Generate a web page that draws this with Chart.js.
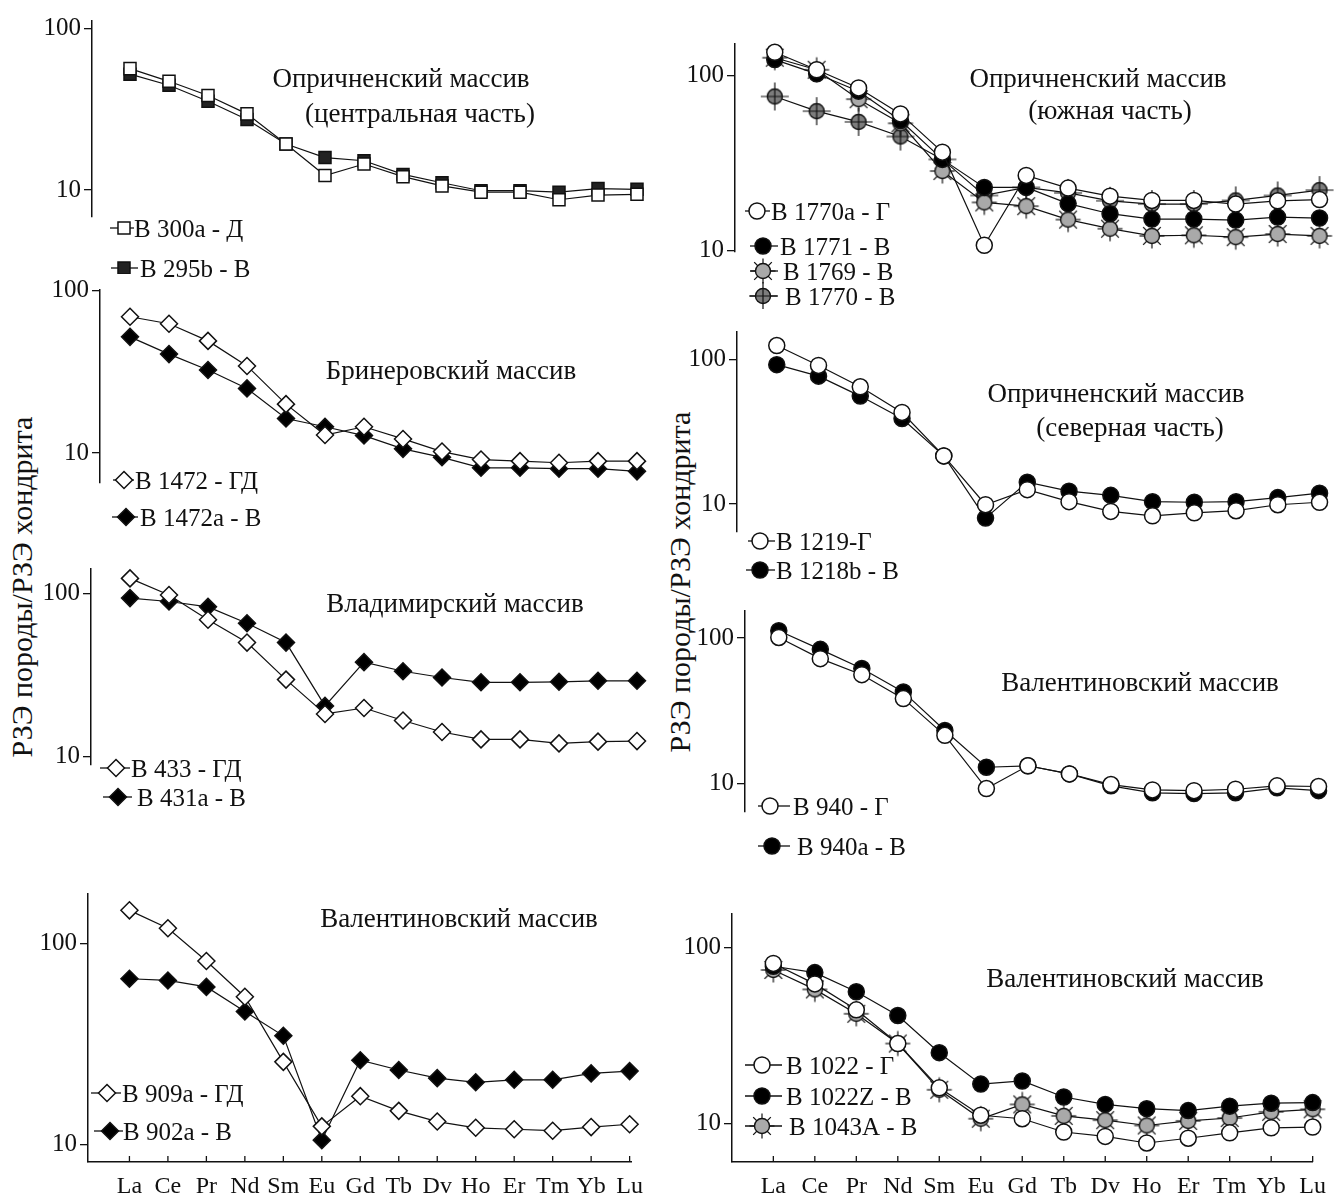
<!DOCTYPE html>
<html>
<head>
<meta charset="utf-8">
<script src="https://cdn.jsdelivr.net/npm/chart.js@4.4.0/dist/chart.umd.min.js"></script>
<style>
body { margin:0; background:#fff; width:1336px; height:1198px; position:relative; overflow:hidden;
       font-family:'Liberation Serif','Times New Roman',serif; color:#111; }
canvas { position:absolute; }
.t { position:absolute; white-space:nowrap; transform:translate(-50%,-50%); font-size:27px; line-height:1; }
.lg { position:absolute; white-space:nowrap; transform:translateY(-50%); font-size:25px; line-height:1; }
.ylab { position:absolute; white-space:nowrap; font-size:30px; line-height:1; transform:translate(-50%,-50%) rotate(-90deg); }
</style>
</head>
<body>
<div class="ylab" style="left:22px;top:587px">РЗЭ породы/РЗЭ хондрита</div>
<div class="ylab" style="left:680px;top:582px">РЗЭ породы/РЗЭ хондрита</div>
<script>
const FONT = "'Liberation Serif','Times New Roman',serif";

// элементы (ось X)
const elements   = ['La','Ce','Pr','Nd','Sm','Eu','Gd','Tb','Dy','Ho','Er','Tm','Yb','Lu'];
const tickLabels = ['La','Ce','Pr','Nd','Sm','Eu','Gd','Tb','Dv','Ho','Er','Tm','Yb','Lu'];
const yTickValues = [10, 100];

// Опричненский массив (центральная часть)
const v300a = [56.7, 47.3, 38.6, 29.7, 19.3, 12.3, 14.5, 12.1, 10.6, 9.7, 9.7, 8.7, 9.3, 9.4];
const v295b = [52.4, 44.7, 35.6, 27.4, 19.3, 15.9, 15.2, 12.5, 11.1, 9.9, 9.9, 9.7, 10.2, 10.1];
// Бринеровский массив
const v1472  = [69.2, 62.6, 49.1, 34.4, 20.0, 12.9, 14.5, 12.2, 10.2, 9.1, 8.9, 8.7, 8.9, 8.9];
const v1472a = [52.0, 40.7, 32.5, 25.0, 16.3, 14.5, 12.8, 10.6, 9.4, 8.1, 8.1, 8.0, 8.0, 7.7];
// Владимирский массив
const v433  = [124, 98.1, 69.0, 50.0, 29.6, 18.2, 19.8, 16.6, 14.1, 12.7, 12.7, 12.0, 12.3, 12.4];
const v431a = [93.8, 89.4, 82.9, 65.7, 50.0, 20.4, 37.9, 33.3, 30.5, 28.5, 28.5, 28.7, 29.1, 29.1];
// Валентиновский массив (слева)
const v909a = [147, 119.7, 82.2, 54.5, 25.8, 12.3, 17.4, 14.7, 13.0, 12.1, 11.9, 11.7, 12.2, 12.6];
const v902a = [67.0, 65.7, 61.0, 46.0, 34.8, 10.5, 26.3, 23.5, 21.4, 20.4, 21.0, 21.0, 22.6, 23.2];
// Опричненский массив (южная часть)
const v1770a = [135.4, 107.6, 84.7, 60.2, 36.4, 10.7, 26.8, 22.7, 20.4, 19.3, 19.3, 18.4, 19.2, 19.5];
const v1771  = [123, 102, 81.2, 55.2, 33.1, 22.9, 22.9, 18.5, 16.2, 15.1, 15.1, 14.9, 15.5, 15.3];
const v1769  = [126, 107.6, 73.1, 53.2, 28.4, 18.8, 17.9, 15.0, 13.3, 12.1, 12.2, 11.9, 12.4, 12.1];
const v1770  = [75.7, 62.4, 54.2, 44.7, 33.1, 20.6, 22.9, 21.3, 19.2, 18.4, 18.4, 19.3, 20.6, 22.1];
// Опричненский массив (северная часть)
const v1219  = [125.7, 91.5, 65.1, 43.2, 21.6, 9.9, 12.6, 10.4, 8.9, 8.3, 8.7, 9.0, 9.9, 10.3];
const v1218b = [92.7, 77.1, 56.1, 39.2, 21.6, 8.0, 14.2, 12.3, 11.5, 10.4, 10.3, 10.4, 11.1, 11.9];
// Валентиновский массив (справа, середина)
const v940  = [101, 72.2, 56.0, 38.3, 21.4, 9.2, 13.2, 11.6, 9.8, 9.0, 8.9, 9.1, 9.6, 9.5];
const v940a = [112.5, 83.7, 61.8, 42.6, 23.1, 12.9, 13.2, 11.6, 9.6, 8.6, 8.5, 8.6, 9.3, 8.9];
// Валентиновский массив (справа, низ)
const v1022  = [80.9, 62.0, 44.2, 28.5, 16.0, 11.2, 10.7, 9.0, 8.5, 7.8, 8.3, 8.9, 9.5, 9.6];
const v1022z = [78, 71.8, 56.0, 41.1, 25.3, 16.8, 17.5, 14.2, 12.9, 12.2, 11.9, 12.6, 13.1, 13.2];
const v1043a = [74.3, 57.7, 42.0, 28.5, 15.6, 10.7, 12.9, 11.1, 10.5, 9.8, 10.4, 10.8, 11.7, 12.1];

// значки
function sunMarker() {
    const c = document.createElement('canvas');
    c.width = c.height = 28;
    const g = c.getContext('2d');
    g.translate(14, 14);
    g.strokeStyle = '#111';
    g.lineWidth = 1.2;
    for (let k = 0; k < 8; k++) {
        const a = k * Math.PI / 4;
        g.beginPath();
        g.moveTo(Math.cos(a) * 6, Math.sin(a) * 6);
        g.lineTo(Math.cos(a) * 12.5, Math.sin(a) * 12.5);
        g.stroke();
    }
    g.beginPath();
    g.arc(0, 0, 7.5, 0, Math.PI * 2);
    g.fillStyle = '#a9a9a9';
    g.fill();
    g.lineWidth = 1.4;
    g.stroke();
    return c;
}

function crossMarker() {
    const c = document.createElement('canvas');
    c.width = c.height = 30;
    const g = c.getContext('2d');
    g.translate(15, 15);
    g.beginPath();
    g.arc(0, 0, 7.5, 0, Math.PI * 2);
    g.fillStyle = '#7d7d7d';
    g.fill();
    g.strokeStyle = '#111';
    g.lineWidth = 1.4;
    g.stroke();
    g.lineWidth = 1.2;
    g.beginPath();
    g.moveTo(-14, 0); g.lineTo(14, 0);
    g.moveTo(0, -14); g.lineTo(0, 14);
    g.stroke();
    return c;
}

const marks = {
    sqOpen: { style: 'rect', r: 8.5, fill: '#fff' },
    sqFill: { style: 'rect', r: 8.5, fill: '#222' },
    dmOpen: { style: 'rectRot', r: 8.5, fill: '#fff' },
    dmFill: { style: 'rectRot', r: 8.5, fill: '#000' },
    ciOpen: { style: 'circle', r: 8, fill: '#fff' },
    ciFill: { style: 'circle', r: 8, fill: '#000' },
    sun:    { style: sunMarker(), r: 8, fill: '#a9a9a9' },
    cross:  { style: crossMarker(), r: 8, fill: '#7d7d7d' }
};

function drawMark(ctx, m, x, y) {
    if (typeof m.style !== 'string') {
        ctx.drawImage(m.style, x - m.style.width / 2, y - m.style.height / 2);
        return;
    }
    ctx.beginPath();
    if (m.style === 'circle') {
        ctx.arc(x, y, m.r, 0, Math.PI * 2);
    } else if (m.style === 'rect') {
        const s = m.r * Math.SQRT1_2;
        ctx.rect(x - s, y - s, 2 * s, 2 * s);
    } else {
        ctx.moveTo(x, y - m.r); ctx.lineTo(x + m.r, y); ctx.lineTo(x, y + m.r); ctx.lineTo(x - m.r, y); ctx.closePath();
    }
    ctx.fillStyle = m.fill;
    ctx.fill();
    ctx.lineWidth = 1.5;
    ctx.strokeStyle = '#111';
    ctx.stroke();
}

const panels = [
    { ax: 92, top: 15, bottom: 262, y100: 25, y10: 228, la: 130, lu: 637, right: 650, xAxis: false,
      series: [{ label: 'В 300а - Д', values: v300a, mark: 'sqOpen' },
               { label: 'В 295b - В', values: v295b, mark: 'sqFill' }],
      legend: [{ y: 228, mx: 124, x1: 110, x2: 134, tx: 134 },
               { y: 268, mx: 124, x1: 111, x2: 138, tx: 140 }],
      titles: [['Опричненский массив', 401, 78], ['(центральная часть)', 420, 113]] },
    { ax: 100, top: 284, bottom: 528, y100: 285, y10: 490, la: 130, lu: 637, right: 650, xAxis: false,
      series: [{ label: 'В 1472 - ГД', values: v1472, mark: 'dmOpen' },
               { label: 'В 1472а - В', values: v1472a, mark: 'dmFill' }],
      legend: [{ y: 480, mx: 124, x1: 113, x2: 134, tx: 135 },
               { y: 517, mx: 126, x1: 112, x2: 138, tx: 140 }],
      titles: [['Бринеровский массив', 451, 370]] },
    { ax: 91, top: 563, bottom: 810, y100: 594, y10: 799, la: 130, lu: 637, right: 650, xAxis: false,
      series: [{ label: 'В 433 - ГД', values: v433, mark: 'dmOpen' },
               { label: 'В 431а - В', values: v431a, mark: 'dmFill' }],
      legend: [{ y: 768, mx: 116, x1: 100, x2: 130, tx: 131 },
               { y: 797, mx: 118, x1: 103, x2: 132, tx: 137 }],
      titles: [['Владимирский массив', 455, 603]] },
    { ax: 88, top: 888, bottom: 1162, y100: 939, y10: 1144, la: 130, lu: 637, right: 639, xAxis: true,
      series: [{ label: 'В 909а - ГД', values: v909a, mark: 'dmOpen' },
               { label: 'В 902а - В', values: v902a, mark: 'dmFill' }],
      legend: [{ y: 1093, mx: 107, x1: 91, x2: 121, tx: 122 },
               { y: 1131, mx: 110, x1: 94, x2: 123, tx: 123 }],
      titles: [['Валентиновский массив', 459, 918]] },
    { ax: 735, top: 38, bottom: 297, y100: 77, y10: 295, la: 775, lu: 1323, right: 1330, xAxis: false,
      series: [{ label: 'В 1770а - Г', values: v1770a, mark: 'ciOpen' },
               { label: 'В 1771 - В', values: v1771, mark: 'ciFill' },
               { label: 'В 1769 - В', values: v1769, mark: 'sun' },
               { label: 'В 1770 - В', values: v1770, mark: 'cross' }],
      legend: [{ y: 211, mx: 757, x1: 745, x2: 770, tx: 771 },
               { y: 246, mx: 763, x1: 750, x2: 778, tx: 780 },
               { y: 271, mx: 763, x1: 750, x2: 778, tx: 783 },
               { y: 296, mx: 763, x1: 750, x2: 778, tx: 785 }],
      titles: [['Опричненский массив', 1098, 78], ['(южная часть)', 1110, 110]] },
    { ax: 737, top: 326, bottom: 577, y100: 361, y10: 542, la: 777, lu: 1323, right: 1330, xAxis: false,
      series: [{ label: 'В 1219-Г', values: v1219, mark: 'ciOpen' },
               { label: 'В 1218b - В', values: v1218b, mark: 'ciFill' }],
      legend: [{ y: 541, mx: 760, x1: 748, x2: 775, tx: 776 },
               { y: 570, mx: 760, x1: 746, x2: 775, tx: 776 }],
      titles: [['Опричненский массив', 1116, 393], ['(северная часть)', 1130, 427]] },
    { ax: 745, top: 605, bottom: 857, y100: 639, y10: 821, la: 779, lu: 1322, right: 1330, xAxis: false,
      series: [{ label: 'В 940 - Г', values: v940, mark: 'ciOpen' },
               { label: 'В 940а - В', values: v940a, mark: 'ciFill' }],
      legend: [{ y: 806, mx: 770, x1: 758, x2: 790, tx: 793 },
               { y: 846, mx: 772, x1: 758, x2: 790, tx: 797 }],
      titles: [['Валентиновский массив', 1140, 682]] },
    { ax: 732, top: 908, bottom: 1162, y100: 942, y10: 1123, la: 774, lu: 1322, right: 1322, xAxis: true,
      series: [{ label: 'В 1022 - Г', values: v1022, mark: 'ciOpen' },
               { label: 'В 1022Z - В', values: v1022z, mark: 'ciFill' },
               { label: 'В 1043А - В', values: v1043a, mark: 'sun' }],
      legend: [{ y: 1065, mx: 762, x1: 745, x2: 782, tx: 786 },
               { y: 1096, mx: 762, x1: 745, x2: 782, tx: 786 },
               { y: 1126, mx: 762, x1: 745, x2: 782, tx: 789 }],
      titles: [['Валентиновский массив', 1125, 978]] }
];

const YW = 60, PT = 12, PB = 12, XH = 45;

function addText(cls, text, x, y) {
    const d = document.createElement('div');
    d.className = cls;
    d.textContent = text;
    d.style.left = x + 'px';
    d.style.top = y + 'px';
    document.body.appendChild(d);
}

panels.forEach(p => {
    const step = (p.lu - p.la) / 13;
    const ppd = p.y10 - p.y100;
    const left = p.ax - YW;
    const top = p.top - PT;
    const pr = Math.min(14, 1336 - p.right);
    const cv = document.createElement('canvas');
    cv.width = p.right + pr - left;
    cv.height = p.bottom - p.top + PT + (p.xAxis ? XH : PB);
    cv.style.left = left + 'px';
    cv.style.top = top + 'px';
    document.body.appendChild(cv);

    new Chart(cv, {
        type: 'line',
        data: {
            datasets: p.series.map(s => {
                const m = marks[s.mark];
                return {
                    label: s.label,
                    data: s.values.map((v, i) => ({ x: i, y: v })),
                    borderColor: '#111',
                    borderWidth: 1.2,
                    pointStyle: m.style,
                    pointRadius: m.r,
                    pointHoverRadius: m.r,
                    pointBackgroundColor: m.fill,
                    pointBorderColor: '#111',
                    pointBorderWidth: 1.5,
                    tension: 0,
                    fill: false,
                    clip: false
                };
            })
        },
        options: {
            responsive: false,
            animation: false,
            events: [],
            layout: { padding: { left: 0, right: pr, top: PT, bottom: p.xAxis ? 0 : PB } },
            plugins: { legend: { display: false }, tooltip: { enabled: false } },
            scales: {
                x: {
                    type: 'linear',
                    display: p.xAxis,
                    min: -(p.la - p.ax) / step,
                    max: 13 + (p.right - p.lu) / step,
                    afterBuildTicks: s => { s.ticks = elements.map((e, i) => ({ value: i })); },
                    afterFit: s => { s.height = XH; },
                    ticks: { callback: v => tickLabels[v], autoSkip: false, maxRotation: 0, padding: 10,
                             font: { family: FONT, size: 24 }, color: '#111' },
                    grid: { drawOnChartArea: false, drawTicks: false },
                    border: { display: true, color: '#111', width: 1.5 }
                },
                y: {
                    type: 'logarithmic',
                    min: Math.pow(10, 1 - (p.bottom - p.y10) / ppd),
                    max: Math.pow(10, 2 + (p.y100 - p.top) / ppd),
                    afterBuildTicks: s => { s.ticks = yTickValues.map(v => ({ value: v })); },
                    afterFit: s => { s.width = YW; },
                    ticks: { callback: v => String(v), padding: 3, font: { family: FONT, size: 25 }, color: '#111' },
                    grid: { drawOnChartArea: false, drawTicks: true, tickLength: 8, color: '#111', lineWidth: 1.3 },
                    border: { display: true, color: '#111', width: 1.5 }
                }
            }
        },
        plugins: [{
            id: 'extras',
            afterDraw(chart) {
                const ctx = chart.ctx;
                ctx.save();
                ctx.strokeStyle = '#111';
                ctx.lineWidth = 1.3;
                if (p.xAxis) {
                    const xs = chart.scales.x, b = chart.chartArea.bottom;
                    elements.forEach((e, i) => {
                        const px = xs.getPixelForValue(i);
                        ctx.beginPath(); ctx.moveTo(px, b); ctx.lineTo(px, b - 6); ctx.stroke();
                    });
                }
                p.legend.forEach((L, k) => {
                    const y = L.y - top;
                    ctx.lineWidth = 1.3;
                    ctx.strokeStyle = '#111';
                    ctx.beginPath(); ctx.moveTo(L.x1 - left, y); ctx.lineTo(L.x2 - left, y); ctx.stroke();
                    drawMark(ctx, marks[p.series[k].mark], L.mx - left, y);
                });
                ctx.restore();
            }
        }]
    });

    p.titles.forEach(t => addText('t', t[0], t[1], t[2]));
    p.legend.forEach((L, k) => addText('lg', p.series[k].label, L.tx, L.y));
});
</script>
</body>
</html>
